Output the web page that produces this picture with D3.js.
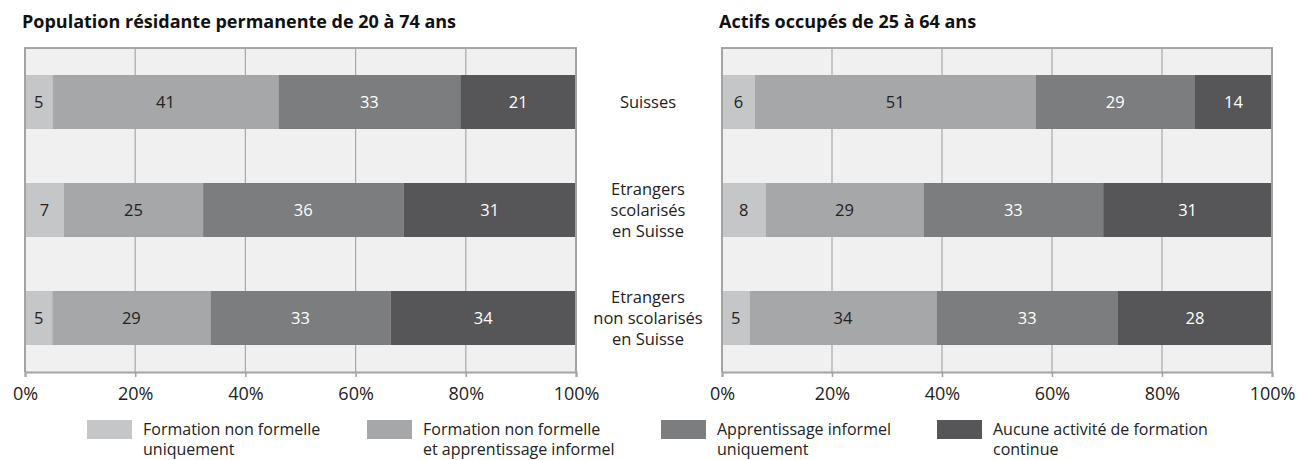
<!DOCTYPE html>
<html>
<head>
<meta charset="utf-8">
<script src="https://cdn.jsdelivr.net/npm/d3@7"></script>
<style>
  body { margin: 0; background: #fff; }
  text { font-family: "Open Sans", "Noto Sans", sans-serif; }
</style>
</head>
<body>
<script>
var width = 1298
var height = 460

// data
var categories = [["Suisses"], ["Etrangers", "scolarisés", "en Suisse"], ["Etrangers", "non scolarisés", "en Suisse"]]
var series = ["Formation non formelle uniquement", "Formation non formelle et apprentissage informel", "Apprentissage informel uniquement", "Aucune activité de formation continue"]
var legendLines = [["Formation non formelle", "uniquement"], ["Formation non formelle", "et apprentissage informel"], ["Apprentissage informel", "uniquement"], ["Aucune activité de formation", "continue"]]
var colors = ["#c5c6c8", "#a6a7a9", "#7c7d7f", "#565557"]
var textColors = ["#222", "#222", "#fff", "#fff"]
var titles = ["Population résidante permanente de 20 à 74 ans", "Actifs occupés de 25 à 64 ans"]
var popValues = [[5, 41, 33, 21], [7, 25, 36, 31], [5, 29, 33, 34]]
var actifsValues = [[6, 51, 29, 14], [8, 29, 33, 31], [5, 34, 33, 28]]
var ticks = [0, 20, 40, 60, 80, 100]

var svg = d3.select("body")
  .append("svg")
  .attr("width", width)
  .attr("height", height)

var plotTop = 48, plotBottom = 372

var panels = [
  { left: 25, right: 576, title: titles[0], values: popValues },
  { left: 722, right: 1272, title: titles[1], values: actifsValues }
]

var y = d3.scaleBand()
  .domain(d3.range(categories.length))
  .range([plotTop, plotBottom])
  .paddingInner(0.5)
  .paddingOuter(0.25)

panels.forEach(function(p) {
  var x = d3.scaleLinear().domain([0, 100]).range([p.left, p.right])
  var g = svg.append("g")

  g.append("text")
    .attr("x", p.left - 3)
    .attr("y", 28)
    .attr("font-size", 18)
    .attr("font-weight", "bold")
    .attr("fill", "#111")
    .text(p.title)

  g.append("rect")
    .attr("x", p.left).attr("y", plotTop)
    .attr("width", p.right - p.left).attr("height", plotBottom - plotTop)
    .attr("fill", "#eff0ef")

  g.selectAll("line.grid")
    .data([20, 40, 60, 80])
    .enter().append("line")
    .attr("x1", function(d) { return x(d) }).attr("x2", function(d) { return x(d) })
    .attr("y1", plotTop).attr("y2", plotBottom)
    .attr("stroke", "#a9a9a9").attr("stroke-width", 1.2)

  // stacked bars, normalised to the row total
  p.values.forEach(function(row, i) {
    var total = d3.sum(row)
    var cum = 0
    row.forEach(function(v, j) {
      var x0 = cum / total * 100
      cum += v
      var x1 = cum / total * 100
      g.append("rect")
        .attr("x", x(x0)).attr("y", y(i))
        .attr("width", x(x1) - x(x0)).attr("height", y.bandwidth())
        .attr("fill", colors[j])
      g.append("text")
        .attr("x", (x(x0) + x(x1)) / 2)
        .attr("y", y(i) + y.bandwidth() / 2 + 6)
        .attr("text-anchor", "middle")
        .attr("font-size", 16.5)
        .attr("fill", textColors[j])
        .text(v)
    })
  })

  // frame
  g.append("path")
    .attr("d", "M" + p.left + "," + plotBottom + "V" + plotTop + "H" + p.right + "V" + plotBottom)
    .attr("fill", "none").attr("stroke", "#a3a3a3").attr("stroke-width", 2)

  var axis = g.append("g")
    .attr("transform", "translate(0," + plotBottom + ")")
    .call(d3.axisBottom(x).tickValues(ticks).tickSize(5).tickFormat(function(d) { return d + "%" }))
  axis.select(".domain").attr("stroke", "#a3a3a3").attr("stroke-width", 2)
  axis.selectAll(".tick line").attr("stroke", "#a3a3a3").attr("stroke-width", 1.5)
  axis.selectAll(".tick text")
    .attr("y", 15)
    .attr("font-size", 18)
    .attr("font-family", "Open Sans, Noto Sans, sans-serif")
    .attr("fill", "#222")
})

// category labels between the two panels
categories.forEach(function(lines, i) {
  var cy = y(i) + y.bandwidth() / 2
  var t = svg.append("text")
    .attr("x", 648)
    .attr("text-anchor", "middle")
    .attr("font-size", 16.5)
    .attr("fill", "#222")
  lines.forEach(function(l, k) {
    t.append("tspan")
      .attr("x", 648)
      .attr("y", cy + 6 + (k - (lines.length - 1) / 2) * 21)
      .text(l)
  })
})

// legend
var legendX = [87, 367, 661, 937]
series.forEach(function(s, i) {
  var lg = svg.append("g").attr("transform", "translate(" + legendX[i] + ",420)")
  lg.append("rect").attr("width", 45).attr("height", 19).attr("fill", colors[i])
  var t = lg.append("text").attr("font-size", 16).attr("fill", "#222")
  legendLines[i].forEach(function(l, k) {
    t.append("tspan").attr("x", 56).attr("y", 15 + k * 20).text(l)
  })
})
</script>
</body>
</html>
